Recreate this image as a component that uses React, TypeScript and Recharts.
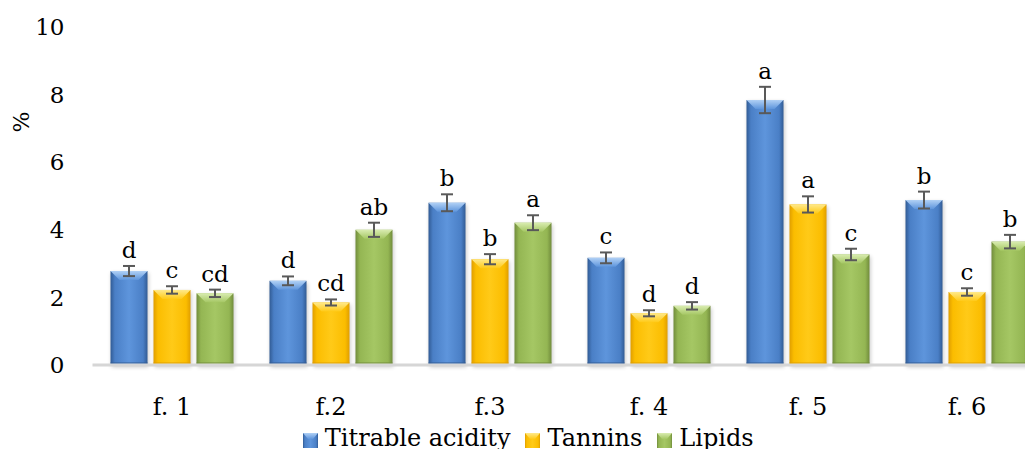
import React from "react";
import { BarChart, Bar, XAxis, YAxis, ErrorBar, LabelList, Legend } from "recharts";

// Formulation labels
const categories = ["f. 1", "f.2", "f.3", "f. 4", "f. 5", "f. 6"];

// Mean values (%)
const titrableAcidity = [2.78, 2.49, 4.8, 3.17, 7.84, 4.88];
const tannins = [2.22, 1.85, 3.13, 1.53, 4.75, 2.16];
const lipids = [2.12, 4.0, 4.21, 1.75, 3.27, 3.65];

// Standard deviations
const titrableAcidityErr = [0.15, 0.13, 0.25, 0.16, 0.39, 0.25];
const tanninsErr = [0.11, 0.09, 0.15, 0.09, 0.24, 0.11];
const lipidsErr = [0.11, 0.21, 0.22, 0.11, 0.17, 0.2];

// Significance letters
const titrableAcidityLetters = ["d", "d", "b", "c", "a", "b"];
const tanninsLetters = ["c", "cd", "b", "d", "a", "c"];
const lipidsLetters = ["cd", "ab", "a", "d", "c", "b"];

const yTicks = [0, 2, 4, 6, 8, 10];

const FONT = "'DejaVu Serif', serif";

const chartData = categories.map((name, i) => ({
    name,
    ta: titrableAcidity[i],
    taErr: titrableAcidityErr[i],
    taLetter: titrableAcidityLetters[i],
    tan: tannins[i],
    tanErr: tanninsErr[i],
    tanLetter: tanninsLetters[i],
    lip: lipids[i],
    lipErr: lipidsErr[i],
    lipLetter: lipidsLetters[i],
}));

type Palette = { id: string; edge: string; mid: string; light: string; top: string };

const BLUE: Palette = { id: "blue", edge: "#315b94", mid: "#4a7fc6", light: "#5e95dc", top: "#b0d0f5" };
const YELLOW: Palette = { id: "yellow", edge: "#e09e00", mid: "#fbbd00", light: "#ffca18", top: "#ffe98a" };
const GREEN: Palette = { id: "green", edge: "#718c3c", mid: "#94b653", light: "#a5c764", top: "#d9ecb0" };

const series = [
    { key: "ta", err: "taErr", letter: "taLetter", name: "Titrable acidity", pal: BLUE, values: titrableAcidity, errs: titrableAcidityErr },
    { key: "tan", err: "tanErr", letter: "tanLetter", name: "Tannins", pal: YELLOW, values: tannins, errs: tanninsErr },
    { key: "lip", err: "lipErr", letter: "lipLetter", name: "Lipids", pal: GREEN, values: lipids, errs: lipidsErr },
];

const Gradients = ({ pal }: { pal: Palette }) => (
    <>
        <linearGradient id={`${pal.id}Side`} x1="0" y1="0" x2="1" y2="0">
            <stop offset="0%" stopColor={pal.edge} />
            <stop offset="12%" stopColor={pal.mid} />
            <stop offset="50%" stopColor={pal.light} />
            <stop offset="88%" stopColor={pal.mid} />
            <stop offset="100%" stopColor={pal.edge} />
        </linearGradient>
        <linearGradient id={`${pal.id}Top`} x1="0" y1="0" x2="0" y2="1">
            <stop offset="0%" stopColor={pal.top} />
            <stop offset="100%" stopColor={pal.light} />
        </linearGradient>
    </>
);

// bevelled bar with a soft drop shadow
const makeShape = (pal: Palette) => (props: any) => {
    const { x, y, width, height } = props;
    if (!height || height <= 0) return <g />;
    const b = Math.min(9, width / 4, height / 2);
    return (
        <g>
            <rect x={x + 1} y={y + 2} width={width} height={height} fill="#000" opacity={0.22} filter="url(#barBlur)" />
            <rect x={x} y={y} width={width} height={height} fill={`url(#${pal.id}Side)`} />
            <polygon
                points={`${x},${y} ${x + width},${y} ${x + width - b},${y + b} ${x + b},${y + b}`}
                fill={`url(#${pal.id}Top)`}
            />
            <rect x={x} y={y + height - 3} width={width} height={3} fill={pal.edge} opacity={0.5} />
        </g>
    );
};

// letter placed above the error bar cap
const makeLetter = (values: number[], errs: number[]) => (props: any) => {
    const vb = props.viewBox || props;
    const { x, y, width, height } = vb;
    const i = props.index;
    const v = values[i];
    const perUnit = v ? height / v : 0;
    const capTop = y - errs[i] * perUnit;
    return (
        <text
            x={x + width / 2}
            y={capTop - 8}
            textAnchor="middle"
            fontFamily={FONT}
            fontSize={23}
            fill="#000"
        >
            {props.value}
        </text>
    );
};

const PercentLabel = () => (
    <text
        x={21}
        y={122}
        transform="rotate(-90, 21, 122)"
        textAnchor="middle"
        dominantBaseline="central"
        fontFamily={FONT}
        fontSize={22}
        fill="#000"
    >
        %
    </text>
);

const renderLegend = () => (
    <div
        style={{
            position: "relative",
            top: -6,
            display: "flex",
            justifyContent: "center",
            alignItems: "center",
            height: 26,
            paddingLeft: 10,
            fontFamily: FONT,
            fontSize: 24,
            lineHeight: "26px",
            color: "#000",
        }}
    >
        {series.map((s, i) => (
            <span key={s.key} style={{ display: "flex", alignItems: "center", marginLeft: i ? 15 : 0 }}>
                <svg width={15} height={15} style={{ marginTop: 4 }}>
                    <defs>
                        <Gradients pal={s.pal} />
                    </defs>
                    <rect x={0} y={0} width={15} height={15} fill={`url(#${s.pal.id}Side)`} />
                    <polygon points="0,0 15,0 10,6 5,6" fill={`url(#${s.pal.id}Top)`} />
                </svg>
                <span style={{ marginLeft: 7 }}>{s.name}</span>
            </span>
        ))}
    </div>
);

export default function App() {
    return (
        <div style={{ margin: -8, width: 1033, height: 457, overflow: "hidden", position: "relative", background: "#fff" }}>
            <BarChart
                width={1060}
                height={457}
                data={chartData}
                margin={{ top: 27, right: 13.5, bottom: 0, left: 0 }}
                barSize={37}
                barGap={6}
            >
                <defs>
                    <Gradients pal={BLUE} />
                    <Gradients pal={YELLOW} />
                    <Gradients pal={GREEN} />
                    <filter id="barBlur" x="-30%" y="-10%" width="160%" height="130%">
                        <feGaussianBlur stdDeviation="2" />
                    </filter>
                </defs>
                <XAxis
                    dataKey="name"
                    height={66}
                    axisLine={{ stroke: "#d6d6d6", strokeWidth: 3 }}
                    tickLine={false}
                    tickSize={0}
                    tickMargin={33}
                    tick={{ fill: "#000", fontSize: 24, fontFamily: FONT }}
                />
                <YAxis
                    width={92.5}
                    domain={[0, 10]}
                    ticks={yTicks}
                    axisLine={false}
                    tickLine={false}
                    tickSize={0}
                    tickMargin={28}
                    tick={{ fill: "#000", fontSize: 23, fontFamily: FONT }}
                    label={<PercentLabel />}
                />
                <Legend verticalAlign="bottom" content={renderLegend} />
                {series.map((s) => (
                    <Bar
                        key={s.key}
                        dataKey={s.key}
                        name={s.name}
                        fill={s.pal.mid}
                        shape={makeShape(s.pal)}
                        isAnimationActive={false}
                    >
                        <ErrorBar dataKey={s.err} direction="y" width={6} stroke="#595959" strokeWidth={2} />
                        <LabelList dataKey={s.letter} content={makeLetter(s.values, s.errs)} />
                    </Bar>
                ))}
            </BarChart>
        </div>
    );
}
